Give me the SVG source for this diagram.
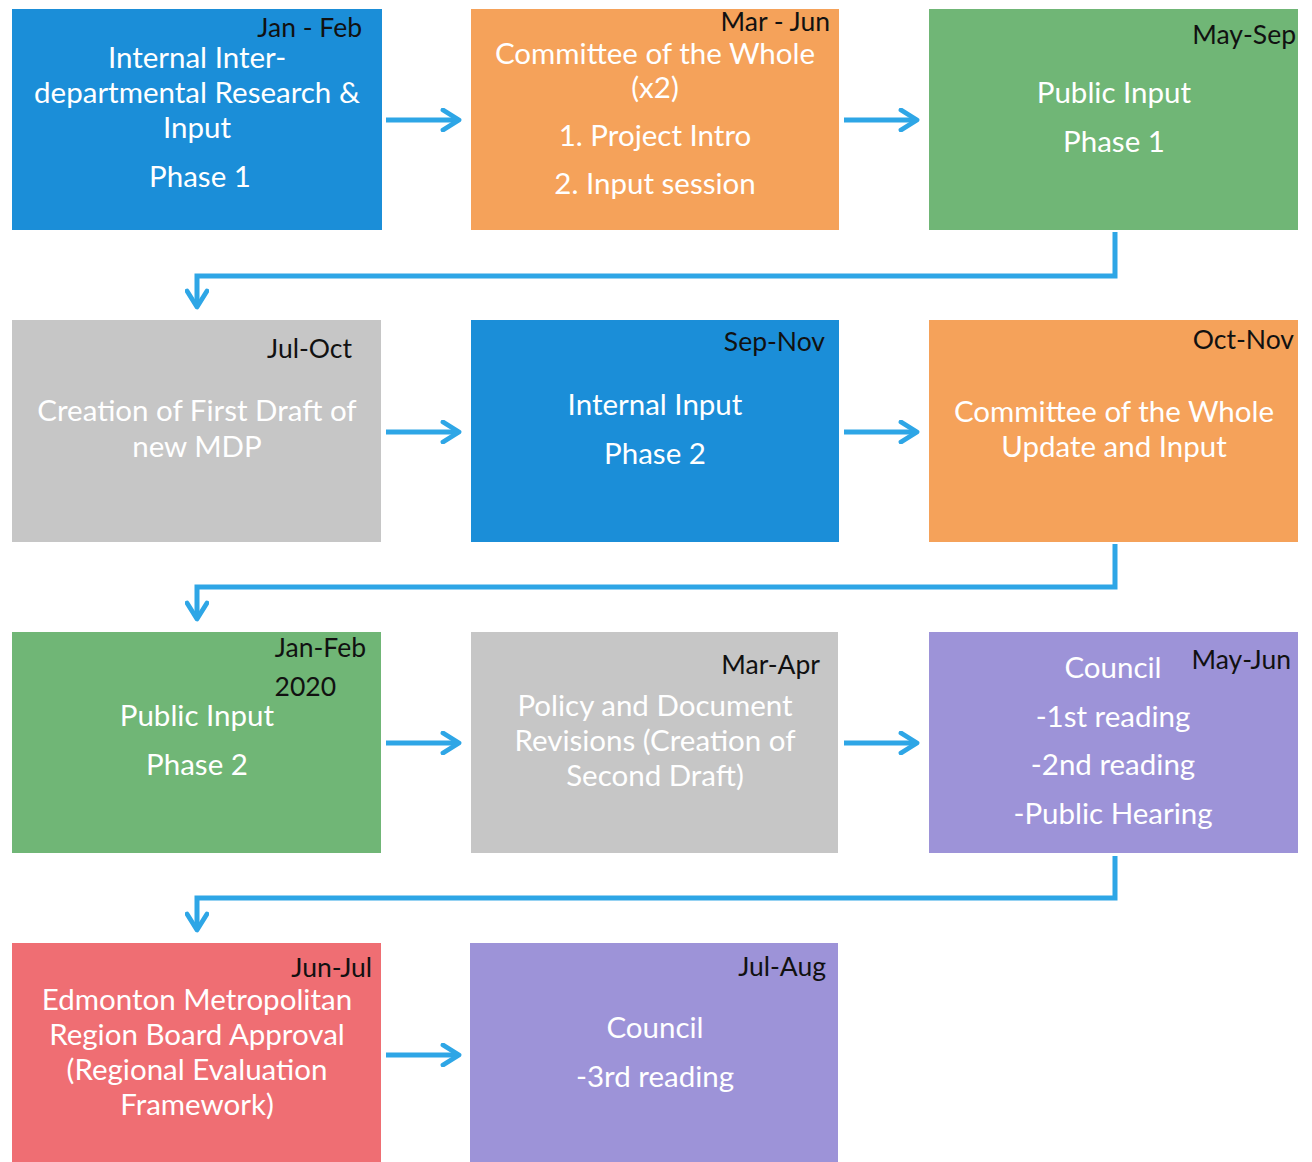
<svg xmlns="http://www.w3.org/2000/svg" width="1312" height="1162" viewBox="0 0 1312 1162">
<style>
.t{font-family:Lato,"Liberation Sans",sans-serif;font-size:29.5px;fill:#ffffff;text-anchor:middle}
.d{font-family:Lato,"Liberation Sans",sans-serif;font-size:26.5px;fill:#111111;text-anchor:end}
.c{fill:none;stroke:#2ea6e6;stroke-width:5}
.blue{fill:#1b8ed8}.orange{fill:#f5a25a}.green{fill:#70b676}.gray{fill:#c6c6c6}.purple{fill:#9d93d8}.red{fill:#ef6e73}
</style>
<defs>
<marker id="ah" viewBox="0 0 12 12" refX="10" refY="6" markerWidth="4.8" markerHeight="4.8" orient="auto" markerUnits="strokeWidth">
<polyline points="2,1 10,6 2,11" fill="none" stroke="#2ea6e6" stroke-width="2.4" stroke-linecap="round" stroke-linejoin="round"/>
</marker>
</defs>
<rect width="1312" height="1162" fill="#ffffff"/>
<g id="connectors">
<line class="c" x1="386" y1="120" x2="459" y2="120" marker-end="url(#ah)"/>
<line class="c" x1="844" y1="120" x2="917" y2="120" marker-end="url(#ah)"/>
<polyline class="c" points="1115,232 1115,276 197,276 197,307" marker-end="url(#ah)"/>
<line class="c" x1="386" y1="432" x2="459" y2="432" marker-end="url(#ah)"/>
<line class="c" x1="844" y1="432" x2="917" y2="432" marker-end="url(#ah)"/>
<polyline class="c" points="1115,544 1115,587 197,587 197,619" marker-end="url(#ah)"/>
<line class="c" x1="386" y1="743" x2="459" y2="743" marker-end="url(#ah)"/>
<line class="c" x1="844" y1="743" x2="917" y2="743" marker-end="url(#ah)"/>
<polyline class="c" points="1115,856 1115,898 197,898 197,930" marker-end="url(#ah)"/>
<line class="c" x1="386" y1="1055" x2="459" y2="1055" marker-end="url(#ah)"/>
</g>
<g id="n1"><rect class="blue" x="12" y="9" width="370" height="221"/>
<text class="d" x="362" y="37">Jan - Feb</text>
<text class="t" x="197" y="68">Internal Inter-</text>
<text class="t" x="197" y="103">departmental Research &amp;</text>
<text class="t" x="197" y="138">Input</text>
<text class="t" x="200" y="187">Phase 1</text></g>
<g id="n2"><rect class="orange" x="471" y="9" width="368" height="221"/>
<text class="d" x="830" y="31">Mar - Jun</text>
<text class="t" x="655" y="64">Committee of the Whole</text>
<text class="t" x="655" y="98">(x2)</text>
<text class="t" x="655" y="146">1. Project Intro</text>
<text class="t" x="655" y="194">2. Input session</text></g>
<g id="n3"><rect class="green" x="929" y="9" width="369" height="221"/>
<text class="d" x="1296" y="44">May-Sep</text>
<text class="t" x="1114" y="103">Public Input</text>
<text class="t" x="1114" y="152">Phase 1</text></g>
<g id="n4"><rect class="gray" x="12" y="320" width="369" height="222"/>
<text class="d" x="352" y="358">Jul-Oct</text>
<text class="t" x="197" y="421">Creation of First Draft of</text>
<text class="t" x="197" y="457">new MDP</text></g>
<g id="n5"><rect class="blue" x="471" y="320" width="368" height="222"/>
<text class="d" x="825" y="351">Sep-Nov</text>
<text class="t" x="655" y="415">Internal Input</text>
<text class="t" x="655" y="464">Phase 2</text></g>
<g id="n6"><rect class="orange" x="929" y="320" width="369" height="222"/>
<text class="d" x="1294" y="349">Oct-Nov</text>
<text class="t" x="1114" y="422">Committee of the Whole</text>
<text class="t" x="1114" y="457">Update and Input</text></g>
<g id="n7"><rect class="green" x="12" y="632" width="369" height="221"/>
<text class="d" x="366" y="657">Jan-Feb</text>
<text class="d" x="336" y="696">2020</text>
<text class="t" x="197" y="726">Public Input</text>
<text class="t" x="197" y="775">Phase 2</text></g>
<g id="n8"><rect class="gray" x="471" y="632" width="367" height="221"/>
<text class="d" x="820" y="674">Mar-Apr</text>
<text class="t" x="655" y="716">Policy and Document</text>
<text class="t" x="655" y="751">Revisions (Creation of</text>
<text class="t" x="655" y="786">Second Draft)</text></g>
<g id="n9"><rect class="purple" x="929" y="632" width="369" height="221"/>
<text class="d" x="1291" y="669">May-Jun</text>
<text class="t" x="1113" y="678">Council</text>
<text class="t" x="1113" y="727">-1st reading</text>
<text class="t" x="1113" y="775">-2nd reading</text>
<text class="t" x="1113" y="824">-Public Hearing</text></g>
<g id="n10"><rect class="red" x="12" y="943" width="369" height="219"/>
<text class="d" x="372" y="977">Jun-Jul</text>
<text class="t" x="197" y="1010">Edmonton Metropolitan</text>
<text class="t" x="197" y="1045">Region Board Approval</text>
<text class="t" x="197" y="1080">(Regional Evaluation</text>
<text class="t" x="197" y="1115">Framework)</text></g>
<g id="n11"><rect class="purple" x="470" y="943" width="368" height="219"/>
<text class="d" x="826" y="976">Jul-Aug</text>
<text class="t" x="655" y="1038">Council</text>
<text class="t" x="655" y="1087">-3rd reading</text></g>
</svg>
